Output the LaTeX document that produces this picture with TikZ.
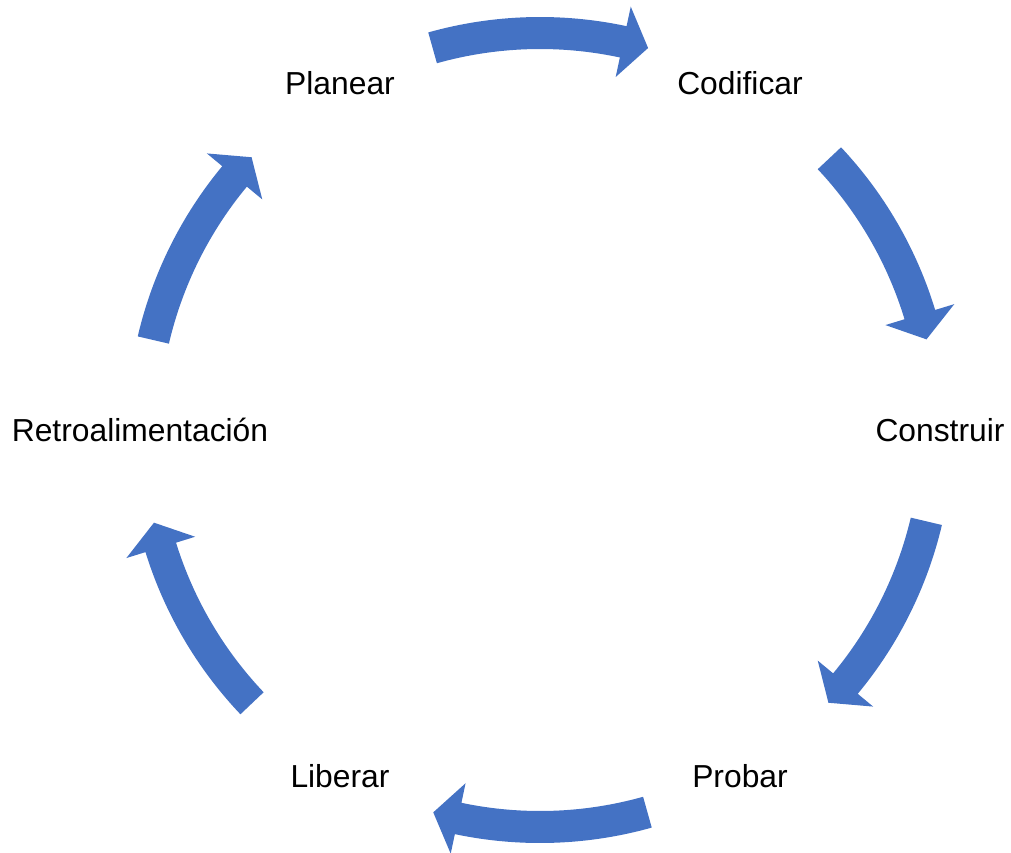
\documentclass[tikz,border=0pt]{standalone}
\usepackage{fontspec}
\setmainfont{Liberation Sans}
\definecolor{cycleblue}{HTML}{4472C4}
\tikzset{
  lbl/.style={anchor=base, inner sep=0pt, font=\fontsize{31.8}{38}\selectfont, text=black},
  blockarrow/.style={fill=cycleblue, draw=none}
}
\newcommand{\cyclearrow}[2]{%
  \pgfmathsetmacro{\hb}{#2+3.7}%
  \fill[blockarrow] (#1:413pt) arc[start angle=#1, end angle=\hb, radius=413pt]
    -- (\hb:433pt) -- (#2:397pt) -- (\hb:361pt) -- (\hb:381pt)
    arc[start angle=\hb, end angle=#1, radius=381pt] -- cycle;}
\begin{document}
\begin{tikzpicture}[x=1pt,y=1pt]
\useasboundingbox (-540,-422) rectangle (471,430);
\coordinate (c) at (0,0);
% labels
\node[lbl] (planear) at ([yshift=-11.4pt]120:400pt) {Planear};
\node[lbl] (codificar) at ([yshift=-11.4pt]60:400pt) {Codificar};
\node[lbl] (construir) at ([yshift=-11.4pt]0:400pt) {Construir};
\node[lbl] (probar) at ([yshift=-11.4pt]-60:400pt) {Probar};
\node[lbl] (liberar) at ([yshift=-11.4pt]-120:400pt) {Liberar};
\node[lbl] (retro) at ([yshift=-11.4pt]180:400pt) {Retroalimentación};
% block arrows
\cyclearrow{105.7}{74.2}
\cyclearrow{43.2}{13.2}
\cyclearrow{-13.3}{-43.4}
\cyclearrow{-74.3}{-105.6}
\cyclearrow{-136.5}{-166.5}
\cyclearrow{166.9}{136.6}
\end{tikzpicture}
\end{document}
